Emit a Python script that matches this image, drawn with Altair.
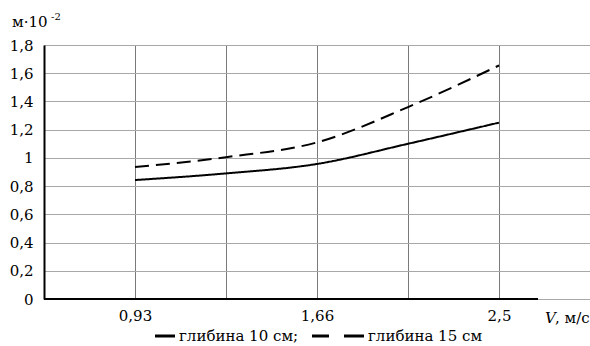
import altair as alt
import pandas as pd

# category positions (evenly spaced, as in the original figure)
x_index = [1, 2, 3, 4, 5]
tick_labels = {1: "0,93", 3: "1,66", 5: "2,5"}
depth10 = [0.843, 0.89, 0.957, 1.10, 1.25]
depth15 = [0.935, 1.005, 1.11, 1.36, 1.655]
series_names = ["глибина 10 см", "глибина 15 см"]

rows = []
for xi, a, b in zip(x_index, depth10, depth15):
    rows.append({"x": xi, "y": a, "s": series_names[0]})
    rows.append({"x": xi, "y": b, "s": series_names[1]})
df = pd.DataFrame(rows)

W, H = 546, 254
FONT = "DejaVu Serif"

label_expr = " : ".join(
    [f"datum.value == {k} ? '{v}'" for k, v in tick_labels.items()]
) + " : ''"

lines = alt.Chart(df).mark_line(interpolate="monotone", strokeWidth=2, color="black", clip=False).encode(
    x=alt.X("x:Q", scale=alt.Scale(domain=[0, 6], nice=False, zero=False),
            axis=alt.Axis(values=[0, 1, 2, 3, 4, 5, 6], labelExpr=label_expr, title=None,
                          grid=True, gridColor="#7a7a7a", gridWidth=1, domain=False,
                          ticks=False, labelFont=FONT, labelFontSize=15, labelColor="black",
                          labelPadding=9)),
    y=alt.Y("y:Q", scale=alt.Scale(domain=[0, 1.8], nice=False),
            axis=alt.Axis(values=[0, 0.2, 0.4, 0.6, 0.8, 1.0, 1.2, 1.4, 1.6, 1.8],
                          labelExpr="replace(toString(round(datum.value*10)/10), '.', ',')",
                          title=None, grid=True, gridColor="#a8a8a8", gridWidth=1,
                          domain=True, domainColor="black", domainWidth=2, ticks=False,
                          labelFont=FONT, labelFontSize=15, labelColor="black", labelPadding=11)),
    strokeDash=alt.StrokeDash("s:N", scale=alt.Scale(domain=series_names, range=[[1, 0], [14, 7]]),
                              legend=None),
    detail="s:N",
)

base = alt.Chart(pd.DataFrame({"a": [0]}))

x_domain = base.mark_rule(color="black", strokeWidth=2).encode(
    x=alt.value(0), x2=alt.value(494), y=alt.value(H))

xtitle_v = base.mark_text(text="V", font=FONT, fontSize=15, fontStyle="italic", align="left",
                          baseline="middle", color="black").encode(x=alt.value(501), y=alt.value(H + 19))
xtitle_u = base.mark_text(text=", м/с", font=FONT, fontSize=15, align="left",
                          baseline="middle", color="black").encode(x=alt.value(511), y=alt.value(H + 19))
ytitle = base.mark_text(text="м·10", font=FONT, fontSize=15, align="left", baseline="alphabetic",
                        color="black").encode(x=alt.value(-32), y=alt.value(-18))
ysup = base.mark_text(text="-2", font=FONT, fontSize=10, align="left", baseline="alphabetic",
                      color="black").encode(x=alt.value(7), y=alt.value(-25))

LY = H + 37
leg1 = base.mark_rule(color="black", strokeWidth=3).encode(
    x=alt.value(111), x2=alt.value(131), y=alt.value(LY))
leg1t = base.mark_text(text="глибина 10 см;", font=FONT, fontSize=15, align="left",
                       baseline="middle", color="black").encode(x=alt.value(135), y=alt.value(LY))
leg2a = base.mark_rule(color="black", strokeWidth=3).encode(
    x=alt.value(268), x2=alt.value(285), y=alt.value(LY))
leg2b = base.mark_rule(color="black", strokeWidth=3).encode(
    x=alt.value(300), x2=alt.value(320), y=alt.value(LY))
leg2t = base.mark_text(text="глибина 15 см", font=FONT, fontSize=15, align="left",
                       baseline="middle", color="black").encode(x=alt.value(324), y=alt.value(LY))

chart = alt.layer(
    lines, x_domain, xtitle_v, xtitle_u, ytitle, ysup, leg1, leg1t, leg2a, leg2b, leg2t
).properties(
    width=W, height=H, padding={"left": 44, "top": 45, "right": 0, "bottom": 47},
    autosize=alt.AutoSizeParams(type="none"), background="white"
).configure_view(stroke=None)

chart.save("out.html", embed_options={"renderer": "svg", "actions": False})
